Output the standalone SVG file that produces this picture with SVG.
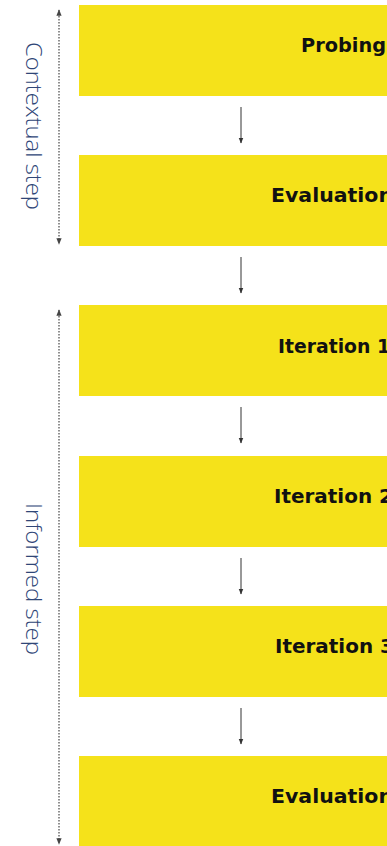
<svg xmlns="http://www.w3.org/2000/svg" width="387" height="846" viewBox="0 0 387 846">
  <style>
    .box { fill: #f5e21a; }
    .lbl { font-family: "DejaVu Sans", Inter, sans-serif; font-weight: 700; font-size: 19.5px; fill: #111; }
    .side { font-family: "Open Sans", "Noto Sans", sans-serif; font-weight: 300; font-size: 22px; fill: #2f4677; }
    .flow { stroke: #333; stroke-width: 1; fill: none; marker-end: url(#head); }
    .span { stroke: #555; stroke-width: 1.3; stroke-dasharray: 1.5 1.5; fill: none; marker-start: url(#tip); marker-end: url(#tip); }
  </style>
  <defs>
    <marker id="head" viewBox="0 0 10 10" refX="9" refY="5" markerWidth="6" markerHeight="6" orient="auto">
      <path d="M0,1 L10,5 L0,9 Z" fill="#333"/>
    </marker>
    <marker id="tip" viewBox="0 0 10 10" refX="9" refY="5" markerWidth="5" markerHeight="5" orient="auto-start-reverse">
      <path d="M0,1 L10,5 L0,9 Z" fill="#444"/>
    </marker>
  </defs>

  <rect width="387" height="846" fill="#fff"/>

  <g id="probing"><rect class="box" x="79" y="5" width="320" height="91"/><text class="lbl" x="301" y="52" textLength="85" lengthAdjust="spacingAndGlyphs">Probing</text></g>
  <g id="evaluation1"><rect class="box" x="79" y="155" width="320" height="91"/><text class="lbl" x="271" y="202" textLength="122" lengthAdjust="spacingAndGlyphs">Evaluation</text></g>
  <g id="iteration1"><rect class="box" x="79" y="305" width="320" height="91"/><text class="lbl" x="278" y="353" textLength="112" lengthAdjust="spacingAndGlyphs">Iteration 1</text></g>
  <g id="iteration2"><rect class="box" x="79" y="456" width="320" height="91"/><text class="lbl" x="274" y="503" textLength="119" lengthAdjust="spacingAndGlyphs">Iteration 2</text></g>
  <g id="iteration3"><rect class="box" x="79" y="606" width="320" height="91"/><text class="lbl" x="275" y="653" textLength="119" lengthAdjust="spacingAndGlyphs">Iteration 3</text></g>
  <g id="evaluation2"><rect class="box" x="79" y="756" width="320" height="91"/><text class="lbl" x="271" y="803" textLength="122" lengthAdjust="spacingAndGlyphs">Evaluation</text></g>

  <g id="contextual-step">
    <path class="span" d="M59,10 V244"/>
    <text class="side" transform="translate(26,126) rotate(90)" text-anchor="middle" textLength="168" lengthAdjust="spacingAndGlyphs">Contextual step</text>
  </g>
  <g id="informed-step">
    <path class="span" d="M59,310 V844"/>
    <text class="side" transform="translate(26,579) rotate(90)" text-anchor="middle" textLength="152" lengthAdjust="spacingAndGlyphs">Informed step</text>
  </g>

  <g id="connectors">
    <path class="flow" d="M241,107 V143"/>
    <path class="flow" d="M241,257 V293"/>
    <path class="flow" d="M241,407 V443"/>
    <path class="flow" d="M241,558 V594"/>
    <path class="flow" d="M241,708 V744"/>
  </g>
</svg>
